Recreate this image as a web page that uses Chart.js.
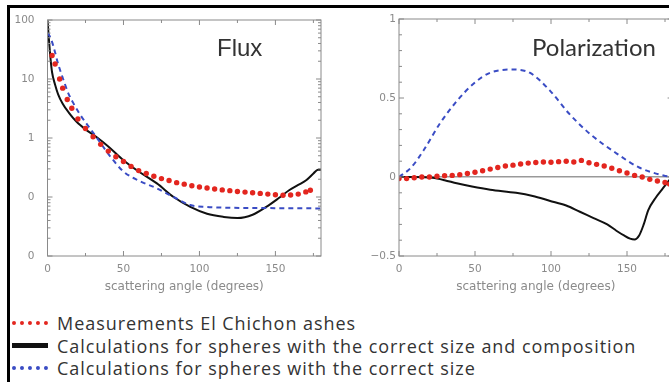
<!DOCTYPE html>
<html>
<head>
<meta charset="utf-8">
<script src="https://cdn.jsdelivr.net/npm/chart.js@4.4.1/dist/chart.umd.min.js"></script>
<style>
  html, body { margin: 0; padding: 0; background: #fff; width: 669px; height: 382px; overflow: hidden; position: relative; }
  .frame { position: absolute; left: 7px; top: 5px; width: 700px; height: 400px; border-left: 3px solid #000; border-top: 3px solid #000; }
  canvas { position: absolute; }
  .ptitle { position: absolute; color: #333; white-space: nowrap; }
  #legend { position: absolute; left: 12px; top: 312px; font-family: "Open Sans", Lato, sans-serif; font-size: 18px; letter-spacing: 0.95px; color: #333; }
  .row { height: 22.5px; display: flex; align-items: center; white-space: nowrap; }
  .mark { width: 36px; margin-right: 9px; }
</style>
</head>
<body>
<div class="frame"></div>
<canvas id="fluxChart" width="340" height="300" style="left:0;top:0"></canvas>
<canvas id="polChart" width="340" height="300" style="left:340px;top:0"></canvas>
<div class="ptitle" style="left:217px;top:34px;font:24px 'Liberation Sans', Arial, sans-serif;">Flux</div>
<div class="ptitle" style="left:532px;top:32px;font:24px Lato, sans-serif;">Polarization</div>
<div id="legend"></div>
<script>
// Названия серий
const seriesNames = [
    'Measurements El Chichon ashes',
    'Calculations for spheres with the correct size and composition',
    'Calculations for spheres with the correct size'
];
const seriesColors = ['#e3261f', '#111111', '#3a4cc4'];

// Flux: измерения (угол, значение)
const fluxMeasAngles = [3, 5, 8, 10, 13, 16, 20, 25, 30, 35, 40, 45, 50, 55, 60, 65, 70, 75, 80, 85, 90, 95, 100, 105, 110, 115, 120, 125, 130, 135, 140, 145, 150, 155, 160, 165, 170, 173];
const fluxMeasValues = [25, 18, 10, 7, 4.5, 3.2, 2.1, 1.45, 1.05, 0.78, 0.6, 0.48, 0.4, 0.33, 0.28, 0.25, 0.225, 0.205, 0.19, 0.175, 0.165, 0.155, 0.148, 0.142, 0.137, 0.132, 0.128, 0.124, 0.121, 0.118, 0.115, 0.112, 0.109, 0.107, 0.108, 0.112, 0.122, 0.13];

// Flux: сферы, размер и состав
const fluxFullAngles = [0, 1, 2, 3, 5, 7, 10, 14, 19, 25, 32, 40, 50, 60, 72, 83, 94, 105, 116, 125, 135, 144, 152, 159, 165, 170, 175, 178, 180];
const fluxFullValues = [100, 45, 22, 13, 8, 5.5, 3.8, 2.7, 1.9, 1.4, 1.05, 0.72, 0.42, 0.27, 0.17, 0.1, 0.068, 0.052, 0.046, 0.044, 0.05, 0.068, 0.095, 0.13, 0.16, 0.19, 0.25, 0.29, 0.29];

// Flux: сферы, только размер
const fluxSizeAngles = [0, 2, 4, 7, 10, 14, 17, 21, 26, 32, 41, 50, 60, 72, 83, 94, 105, 116, 140, 180];
const fluxSizeValues = [60, 50, 35, 18, 10.5, 5.5, 3.9, 2.6, 1.7, 1.05, 0.5, 0.27, 0.19, 0.14, 0.1, 0.073, 0.068, 0.066, 0.065, 0.064];

// Polarization
const polMeasAngles = [0, 5, 10, 15, 20, 25, 30, 35, 40, 45, 50, 55, 60, 65, 70, 75, 80, 85, 90, 95, 100, 105, 110, 115, 120, 125, 130, 135, 140, 145, 150, 155, 160, 165, 170, 175, 178];
const polMeasValues = [-0.01, -0.01, -0.005, 0, 0, 0.005, 0.008, 0.01, 0.015, 0.022, 0.03, 0.04, 0.05, 0.06, 0.07, 0.075, 0.082, 0.088, 0.092, 0.095, 0.093, 0.097, 0.1, 0.095, 0.105, 0.09, 0.08, 0.07, 0.055, 0.04, 0.025, 0.01, 0, -0.015, -0.025, -0.035, -0.045];

const polFullAngles = [0, 10, 22, 30, 38, 48, 60, 77, 88, 99, 110, 119, 128, 137, 143, 148, 152, 155, 158, 161, 164, 169, 173, 177, 180];
const polFullValues = [0, 0, -0.005, -0.02, -0.04, -0.06, -0.08, -0.1, -0.12, -0.15, -0.18, -0.22, -0.26, -0.3, -0.34, -0.37, -0.39, -0.395, -0.37, -0.3, -0.21, -0.13, -0.08, -0.03, 0];

const polSizeAngles = [0, 8, 16, 27, 38, 49, 60, 75, 86, 99, 112, 126, 143, 158, 174, 180];
const polSizeValues = [0, 0.06, 0.166, 0.34, 0.48, 0.59, 0.66, 0.68, 0.66, 0.55, 0.4, 0.27, 0.15, 0.06, 0.01, 0];

// Деления осей
const angleTicks = [0, 50, 100, 150];
const angleMinor = [25, 75, 125, 175];
const fluxTickValues = [0.01, 0.1, 1, 10, 100];
const fluxTickLabels = ['0', '0', '1', '10', '100'];
const polTickValues = [-0.5, 0, 0.5, 1];
const polTickLabels = ['\u22120.5', '0', '0.5', '1'];

const axisTitle = 'scattering angle (degrees)';
const tickFont = { family: "'DejaVu Sans', sans-serif", size: 10.5 };

function pts(xs, ys) {
    return xs.map((x, i) => ({ x, y: ys[i] }));
}

function datasets(meas, full, size) {
    return [
        { label: seriesNames[0], data: meas, showLine: false, pointRadius: 2.7, pointBackgroundColor: seriesColors[0], pointBorderWidth: 0, order: 1 },
        { label: seriesNames[1], data: full, showLine: true, borderColor: seriesColors[1], borderWidth: 2, pointRadius: 0, tension: 0.4, cubicInterpolationMode: 'monotone', order: 3 },
        { label: seriesNames[2], data: size, showLine: true, borderColor: seriesColors[2], borderWidth: 2, borderDash: [5, 4], pointRadius: 0, tension: 0.4, cubicInterpolationMode: 'monotone', order: 2 }
    ];
}

// Рамка и внутренние засечки
const frameTicks = {
    id: 'frameTicks',
    afterDraw(chart, args, opts) {
        const { ctx, chartArea: a, scales } = chart;
        ctx.save();
        ctx.strokeStyle = '#8a8a8a';
        ctx.lineWidth = 1;
        ctx.strokeRect(a.left, a.top, a.right - a.left, a.bottom - a.top);
        const mark = (list, len) => {
            list.forEach(v => {
                const px = scales.x.getPixelForValue(v);
                ctx.beginPath();
                ctx.moveTo(px, a.bottom); ctx.lineTo(px, a.bottom - len);
                ctx.moveTo(px, a.top); ctx.lineTo(px, a.top + len);
                ctx.stroke();
            });
        };
        mark(angleTicks, 5);
        mark(angleMinor, 3);
        const markY = (list, len) => {
            list.forEach(v => {
                const py = scales.y.getPixelForValue(v);
                ctx.beginPath();
                ctx.moveTo(a.left, py); ctx.lineTo(a.left + len, py);
                ctx.moveTo(a.right, py); ctx.lineTo(a.right - len, py);
                ctx.stroke();
            });
        };
        markY(opts.major, 5);
        markY(opts.minor, 3);
        ctx.restore();
    }
};

function xScale() {
    return {
        type: 'linear', min: 0, max: 180,
        afterBuildTicks: s => { s.ticks = angleTicks.map(v => ({ value: v })); },
        grid: { display: false, drawTicks: false },
        border: { display: false },
        ticks: { color: '#8a8a8a', font: tickFont, padding: 7, maxRotation: 0 },
        title: { display: true, text: axisTitle, color: '#8a8a8a', font: { family: "'DejaVu Sans', sans-serif", size: 12 }, padding: { top: 0, bottom: 6 } },
        afterFit: s => { s.height = 44; }
    };
}

// Мелкие засечки
const fluxMinor = [];
fluxTickValues.slice(0, -1).forEach(d => { for (let k = 2; k <= 9; k++) fluxMinor.push(d * k); });
const polMinor = [-0.4, -0.3, -0.2, -0.1, 0.1, 0.2, 0.3, 0.4, 0.6, 0.7, 0.8, 0.9];

const fluxChart = new Chart(document.getElementById('fluxChart'), {
    type: 'scatter',
    data: { datasets: datasets(pts(fluxMeasAngles, fluxMeasValues), pts(fluxFullAngles, fluxFullValues), pts(fluxSizeAngles, fluxSizeValues)) },
    options: {
        responsive: false, animation: false, devicePixelRatio: 1,
        layout: { padding: { top: 20, right: 19, left: 0, bottom: 0 } },
        plugins: { legend: { display: false }, tooltip: { enabled: false }, frameTicks: { major: fluxTickValues, minor: fluxMinor } },
        scales: {
            x: xScale(),
            y: {
                type: 'logarithmic', min: 0.01, max: 100,
                afterBuildTicks: s => { s.ticks = fluxTickValues.map(v => ({ value: v })); },
                grid: { display: false, drawTicks: false },
                border: { display: false },
                ticks: { color: '#8a8a8a', font: tickFont, padding: 13, callback: (v, i) => fluxTickLabels[i] },
                afterFit: s => { s.width = 47.5; }
            }
        }
    },
    plugins: [frameTicks]
});

const polChart = new Chart(document.getElementById('polChart'), {
    type: 'scatter',
    data: { datasets: datasets(pts(polMeasAngles, polMeasValues), pts(polFullAngles, polFullValues), pts(polSizeAngles, polSizeValues)) },
    options: {
        responsive: false, animation: false, devicePixelRatio: 1,
        layout: { padding: { top: 19, right: 7.4, left: 0, bottom: 0 } },
        plugins: { legend: { display: false }, tooltip: { enabled: false }, frameTicks: { major: polTickValues, minor: polMinor } },
        scales: {
            x: xScale(),
            y: {
                type: 'linear', min: -0.5, max: 1,
                afterBuildTicks: s => { s.ticks = polTickValues.map(v => ({ value: v })); },
                grid: { drawTicks: false, lineWidth: 1.5, color: c => c.tick && c.tick.value === 0 ? '#999' : 'rgba(0,0,0,0)' },
                border: { display: false },
                ticks: { color: '#8a8a8a', font: tickFont, padding: 3, callback: (v, i) => polTickLabels[i] },
                afterFit: s => { s.width = 59; }
            }
        }
    },
    plugins: [frameTicks]
});

// Легенда
const marks = [
    'border-top: 4px dotted ' + seriesColors[0],
    'border-top: 5px solid ' + seriesColors[1],
    'border-top: 4px dotted ' + seriesColors[2]
];
const legend = document.getElementById('legend');
seriesNames.forEach((name, i) => {
    const row = document.createElement('div');
    row.className = 'row';
    row.innerHTML = '<span class="mark" style="' + marks[i] + '"></span><span>' + name + '</span>';
    legend.appendChild(row);
});
</script>
</body>
</html>
